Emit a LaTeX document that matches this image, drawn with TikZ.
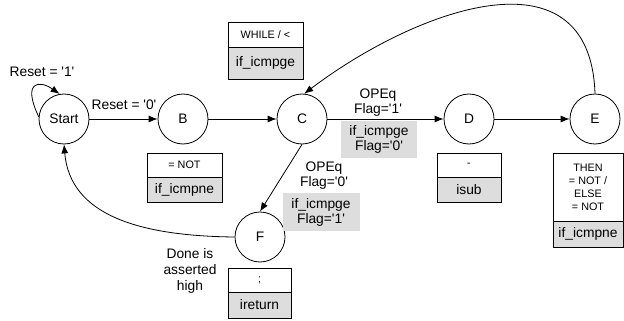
\documentclass[tikz,border=0pt]{standalone}
\usepackage{fontspec}
\setmainfont{Liberation Sans}
\usetikzlibrary{arrows.meta}
\definecolor{lgray}{RGB}{221,221,221}
\newcommand{\sq}{\textquotesingle}
\begin{document}
\begin{tikzpicture}[x=1pt,y=-1pt,
  state/.style={circle,draw,line width=0.8pt,minimum size=50pt,inner sep=0pt,font=\fontsize{13.8}{15}\selectfont},
  arr/.style={line width=0.8pt,-{Latex[length=9pt,width=7pt]}},
  lbl/.style={align=center,inner sep=0pt,font=\fontsize{13.8}{15}\selectfont},
  glbl/.style={lbl,fill=lgray},
  toprow/.style={draw,line width=0.8pt,fill=white,inner sep=0pt,align=center,font=\fontsize{10.8}{13}\selectfont},
  botrow/.style={draw,line width=0.8pt,fill=lgray,inner sep=0pt,font=\fontsize{13.8}{15}\selectfont},
]
\useasboundingbox (0,0) rectangle (624,321);

% states
\node[state] (start) at (64,119) {Start};
\node[state] (B) at (183,119) {B};
\node[state] (C) at (302,119) {C};
\node[state] (D) at (469,119) {D};
\node[state] (E) at (595,119) {E};
\node[state] (F) at (260,237) {F};

% boxes
\node[toprow,minimum width=75pt,minimum height=25pt] (wt) at (265.5,34.5) {WHILE / <};
\node[botrow,minimum width=75pt,minimum height=32pt] (wb) at (265.5,63) {if\_icmpge};

\node[toprow,minimum width=75pt,minimum height=24pt] (bt) at (184.5,165) {= NOT};
\node[botrow,minimum width=75pt,minimum height=25pt] (bb) at (184.5,189.5) {if\_icmpne};

\node[toprow,minimum width=64pt,minimum height=24pt] (dt) at (469,165) {-};
\node[botrow,minimum width=64pt,minimum height=25pt] (db) at (469,189.5) {isub};

\node[toprow,minimum width=70pt,minimum height=68pt] (et) at (588,187) {THEN\\= NOT /\\ELSE\\= NOT};
\node[botrow,minimum width=70pt,minimum height=26pt] (eb) at (588,234) {if\_icmpne};

\node[toprow,minimum width=63pt,minimum height=24pt] (ft) at (259.5,280) {;};
\node[botrow,minimum width=63pt,minimum height=26pt] (fb) at (259.5,305) {ireturn};

% labels
\node[lbl] (l1) at (42,72) {Reset = \sq1\sq};
\node[lbl] (l0) at (124,105) {Reset = \sq0\sq};
\node[lbl] (lcd) at (378,102.5) {OPEq\\Flag=\sq1\sq};
\node[glbl,minimum width=76pt,minimum height=37pt] (gcd) at (379,139.5) {if\_icmpge\\Flag=\sq0\sq};
\node[lbl] (lcf) at (324,175.5) {OPEq\\Flag=\sq0\sq};
\node[glbl,minimum width=77pt,minimum height=38pt] (gcf) at (321,212) {if\_icmpge\\Flag=\sq1\sq};
\node[lbl,font=\fontsize{13.8}{16}\selectfont] (done) at (190,271) {Done is\\asserted\\high};

% edges
\draw[arr] (start.175) .. controls +(-17,-36) and +(-20,-14) .. (start.100);
\draw[arr] (start) -- (B);
\draw[arr] (B) -- (C);
\draw[arr] (C) -- (D);
\draw[arr] (D) -- (E);
\draw[arr] (E.north) .. controls +(-5,-149) and +(111,-84) .. (C.85);
\draw[arr] (C.south) -- (F.north);
\draw[arr] (F.west) .. controls +(-95,-1) and +(6,71) .. (start.south);
\end{tikzpicture}
\end{document}
